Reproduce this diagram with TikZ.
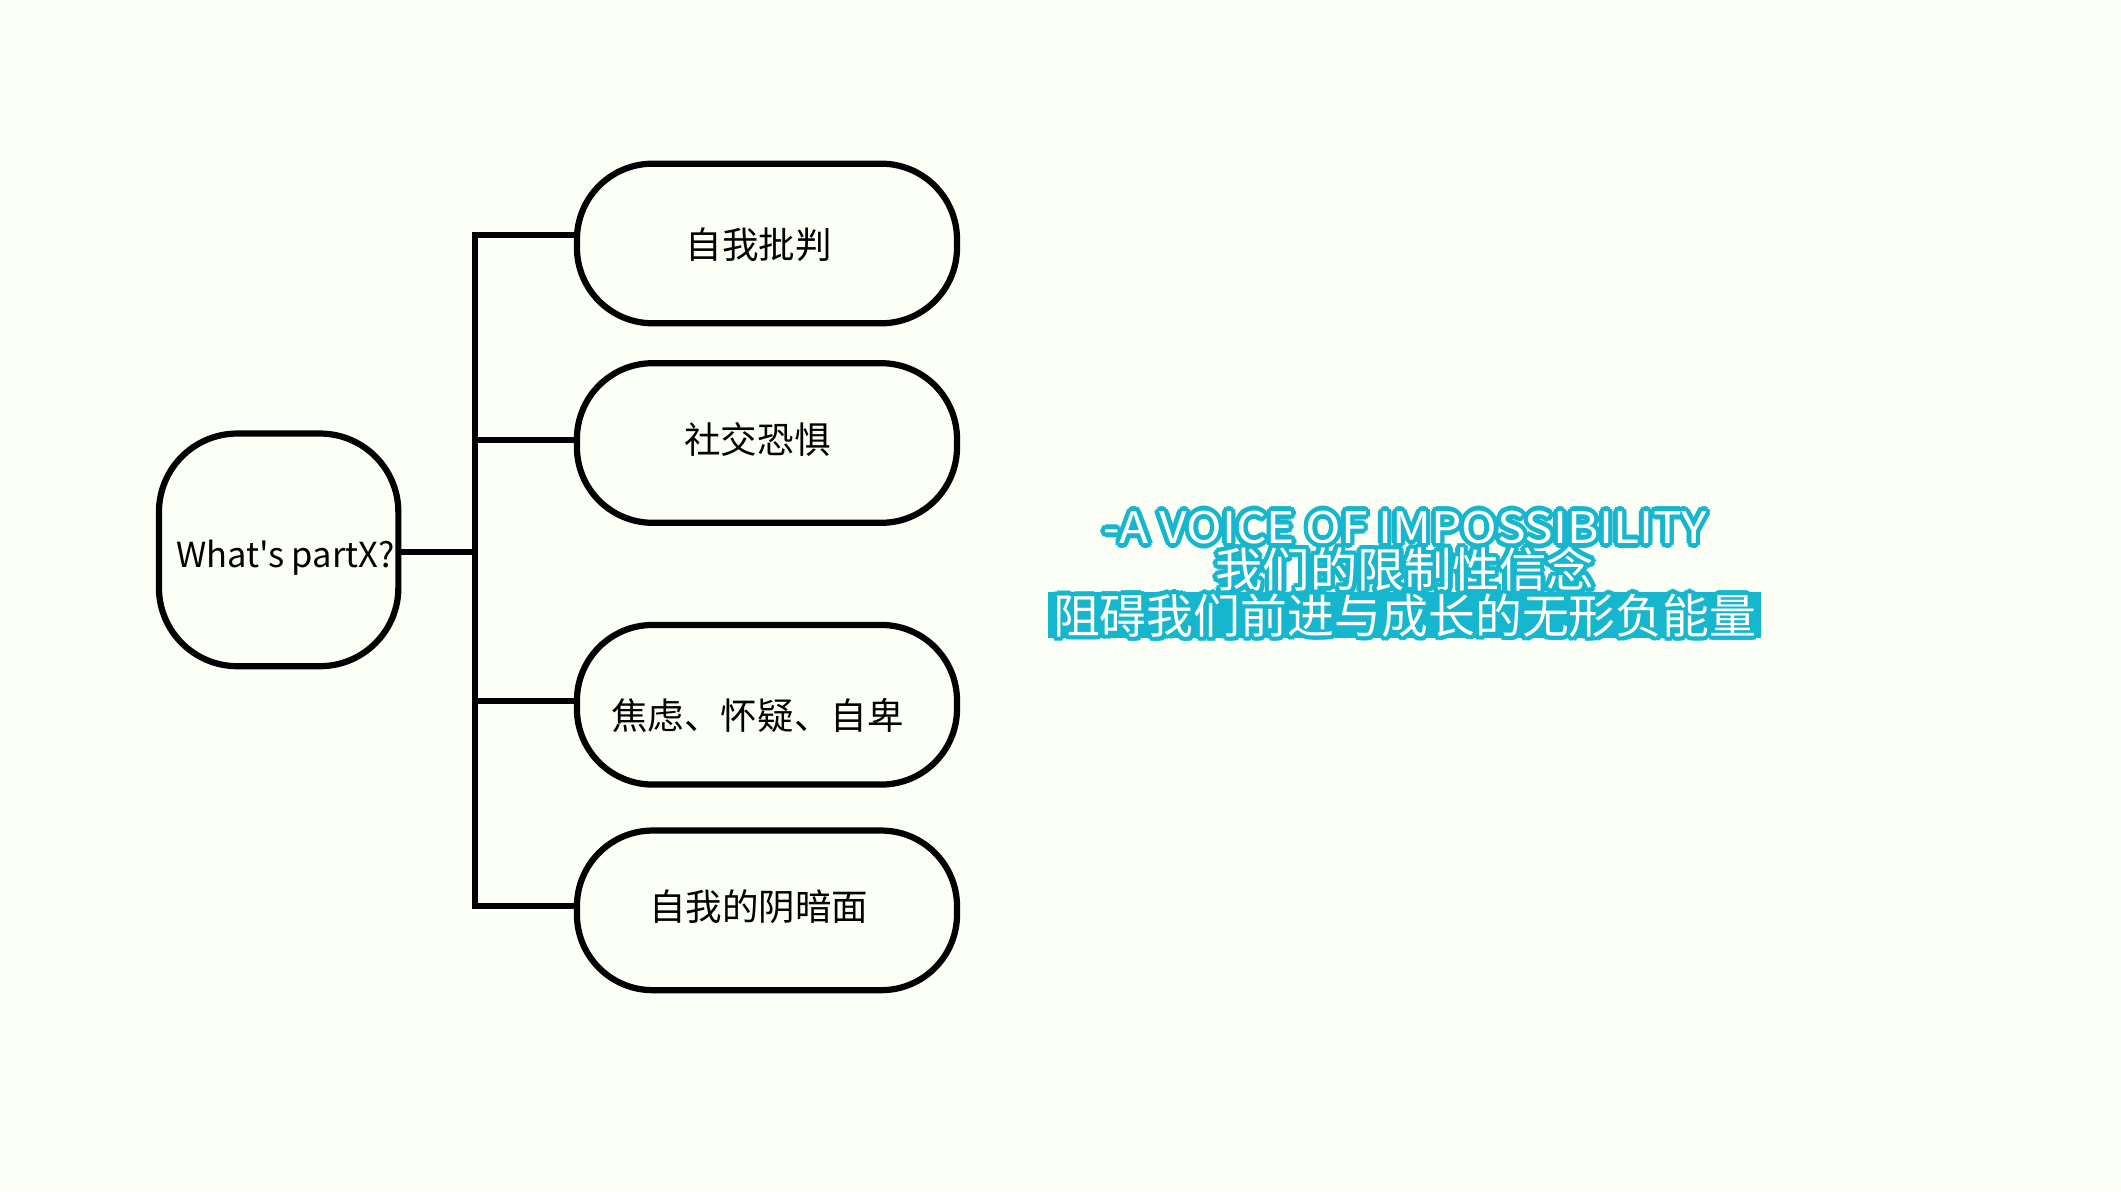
\documentclass[tikz,border=0pt]{standalone}
\usepackage{fontspec}
\usetikzlibrary{calc}
\newfontfamily\cjk{Noto Sans CJK SC}
\definecolor{bgc}{RGB}{252,255,246}
\definecolor{hcyan}{RGB}{22,182,206}
\newcommand{\halotext}[4]{%
  \foreach \ang in {0,30,...,330}{%
    \node[text=hcyan, inner sep=0pt] (#1a\ang) at ($(#2)+(\ang:3.4)$) {#3#4};
    \node[text=hcyan, inner sep=0pt] (#1b\ang) at ($(#2)+(\ang:1.7)$) {#3#4};
  }%
  \node[text=white, inner sep=0pt] (#1) at (#2) {#3#4};
}
\begin{document}
\begin{tikzpicture}[x=1pt,y=-1pt,
  boxstyle/.style={draw=black, line width=4.6pt, rectangle, rounded corners=56pt,
    minimum width=281pt, minimum height=118pt, inner sep=0pt, fill=bgc},
  centerstyle/.style={draw=black, line width=4.6pt, rectangle, rounded corners=58pt,
    minimum width=177pt, minimum height=172pt, inner sep=0pt, fill=bgc},
  lbl/.style={inner sep=0pt, text=black, font=\cjk\fontsize{27}{27}\selectfont},
  conn/.style={draw=black, line width=4.6pt}]
\fill[bgc] (0,0) rectangle (1568,880.5);
\useasboundingbox (0,0) rectangle (1568,880.5);

% nodes
\node[centerstyle] (c) at (206,406.5) {};
\node[lbl, font=\cjk\fontsize{25.5}{25.5}\selectfont] (ct) at (211,412) {What's partX?};
\node[boxstyle] (b1) at (567,180) {};
\node[boxstyle] (b2) at (567,327.5) {};
\node[boxstyle] (b3) at (567,521) {};
\node[boxstyle] (b4) at (567,673) {};
\node[lbl] (t1) at (561,181) {自我批判};
\node[lbl] (t2) at (560,325) {社交恐惧};
\node[lbl] (t3) at (560,529) {焦虑、怀疑、自卑};
\node[lbl] (t4) at (561,670) {自我的阴暗面};

% connectors
\coordinate (j0) at (351,408);
\coordinate (tr1) at (351,174);
\coordinate (tr2) at (351,325);
\coordinate (tr3) at (351,518);
\coordinate (tr4) at (351,670);
\draw[conn] (tr1 -| b1.west) -- (tr1) -- (tr4) -- (tr4 -| b4.west);
\draw[conn] (tr2) -- (tr2 -| b2.west);
\draw[conn] (tr3) -- (tr3 -| b3.west);
\draw[conn] (c.east |- j0) -- (j0);

% right text
\coordinate (p1) at (1038.5,390);
\coordinate (p2) at (1038.5,421);
\coordinate (p3) at (1038.5,455);
\node[fill=hcyan, minimum width=527pt, minimum height=34pt, inner sep=0pt] (band) at (p3) {};
\halotext{l1}{p1}{\cjk}{\resizebox{446pt}{24pt}{-A VOICE OF IMPOSSIBILITY}}
\halotext{l2}{p2}{\cjk\fontsize{36}{36}\selectfont}{\resizebox{280pt}{!}{我们的限制性信念}}
\halotext{l3}{p3}{\cjk\fontsize{36}{36}\selectfont}{\resizebox{520pt}{!}{阻碍我们前进与成长的无形负能量}}
\end{tikzpicture}
\end{document}
